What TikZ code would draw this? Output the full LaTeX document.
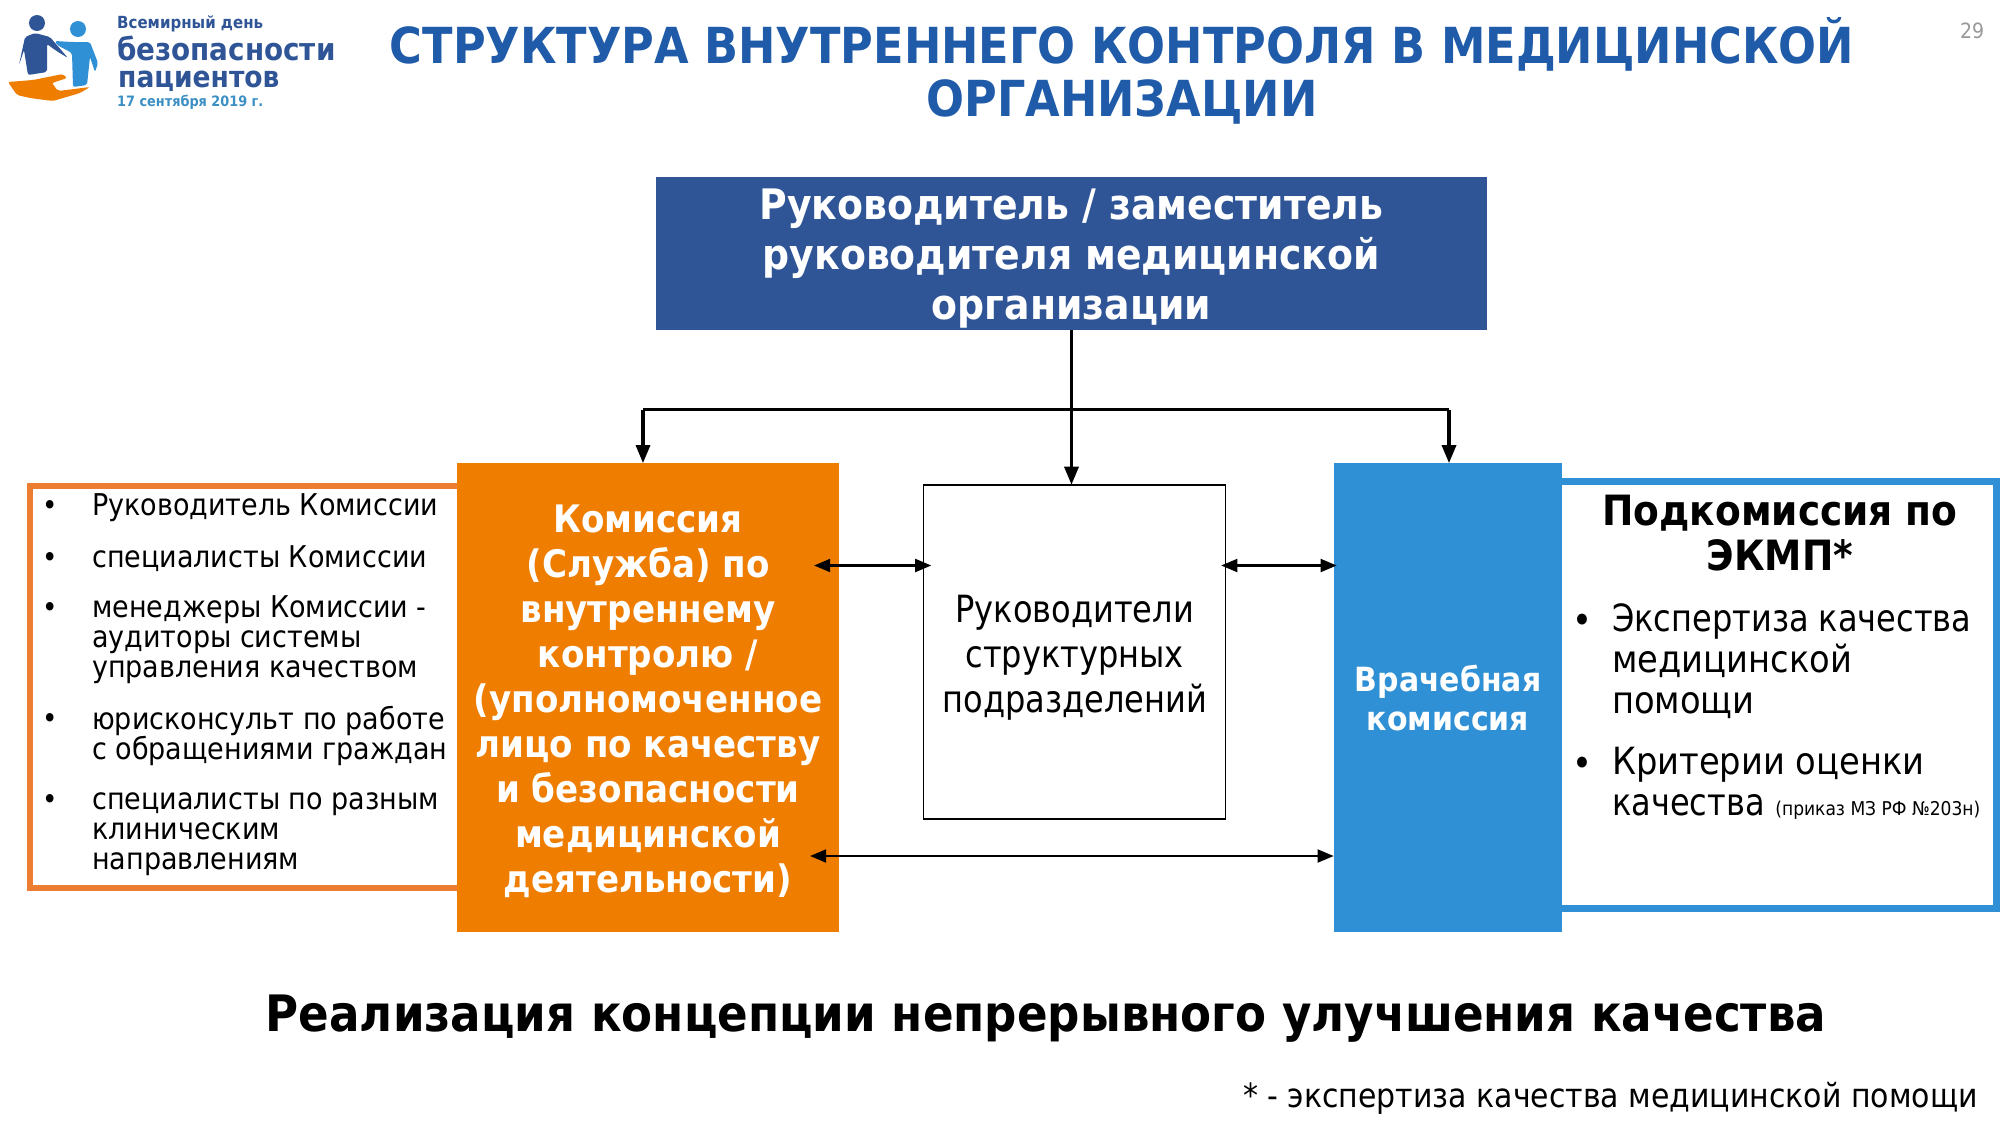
\documentclass[tikz,border=0pt]{standalone}
\usepackage{xcolor}
\usepackage{fontspec}
\setmainfont{DejaVu Sans Condensed}
\newfontfamily\narrowface[FakeStretch=0.95]{DejaVu Sans Condensed}
\usepackage{tikz}
\usetikzlibrary{arrows,calc,positioning}
\definecolor{titleblue}{HTML}{1F5BA8}
\definecolor{headblue}{HTML}{2F5597}
\definecolor{komorange}{HTML}{EE7D00}
\definecolor{frameorange}{HTML}{ED7D31}
\definecolor{vkblue}{HTML}{2F90D5}
\definecolor{logosky}{HTML}{3B8FC4}
\newcommand{\fsz}[2]{\fontsize{#1}{#2}\selectfont}
\newcommand{\dropby}[1]{\rule{0pt}{#1pt}}
\newcommand{\joinbox}[3][]{\draw[#1] (#2)--(#3) ;}
\newcommand{\itemat}[3]{\node[bullet] (#1b) at (50,#2-7) {•} ; \node[listtext] (#1) at (92,#2-22) {\dropby{22}#3} ;}
\tikzset{
  plainbox/.style={inner sep=0pt,align=center,text=white,font=\bfseries},
  bullet/.style={inner sep=0pt,anchor=center,font=\fsz{29}{31}},
  listtext/.style={inner sep=0pt,anchor=north west,align=left,font=\fsz{30}{30.3}},
  logotext/.style={inner sep=0pt,anchor=base west,font=\bfseries},
  link/.style={line width=3.2pt},
  sidelink/.style={line width=2.8pt},
}
\begin{document}
\begin{tikzpicture}[>=triangle 45,x=1pt,y=-1pt]
    \useasboundingbox (0,0) rectangle (2000,1125);
    % logo
    \fill[headblue] (37,23) circle (8);
    \fill[vkblue] (78,29) circle (8);
    \fill[headblue,rounded corners=2pt] (25,37)--(35,33)--(50,37)--(68,58)--(55,50)--(47,44)--(47,72)--(28,75)--(24,50)--(19,65)--cycle;
    \fill[vkblue,rounded corners=2pt] (55,41)--(72,42)--(90,42)--(98,63)--(95,72)--(90,57)--(87,85)--(73,87)--(72,53)--(57,45)--cycle;
    \fill[komorange,rounded corners=2pt] (8,82)--(33,80)--(63,74)--(67,78)--(52,83)--(58,91)--(90,87)--(80,93)--(53,101)--(30,98)--(17,95)--cycle;
    \node[logotext,text=headblue] (logo1) at (117,28) {\fsz{16.7}{17}Всемирный день};
    \node[logotext,text=headblue] (logo2) at (117,60) {\fsz{30.9}{31}безопасности};
    \node[logotext,text=headblue] (logo3) at (118,87) {\fsz{29.5}{30}пациентов};
    \node[logotext,text=logosky] (logo4) at (117,106) {\fsz{14.3}{15}17 сентября 2019 г.};
    % title
    \node[inner sep=0pt,align=center,text=titleblue,font=\bfseries\fsz{49.65}{53}] (title) at (1122,71) {СТРУКТУРА ВНУТРЕННЕГО КОНТРОЛЯ В МЕДИЦИНСКОЙ\\ОРГАНИЗАЦИИ};
    \node[inner sep=0pt,text=gray!80,font=\fsz{21}{21}] (pageno) at (1972,31) {29};
    % boxes
    \node[plainbox,fill=headblue,minimum width=831pt,minimum height=153pt,font=\bfseries\fsz{42}{50}] (head) at (1071.5,253.5) {\dropby{40.5}Руководитель / заместитель\\руководителя медицинской\\организации};
    \node[draw=frameorange,line width=6pt,minimum width=450pt,minimum height=402pt,inner sep=0pt] (teamframe) at (255,686.5) {};
    \node[draw=vkblue,line width=7pt,minimum width=500pt,minimum height=427pt,inner sep=0pt] (ekmpframe) at (1746,695) {};
    \node[plainbox,fill=komorange,minimum width=382pt,minimum height=469pt,font=\bfseries\fsz{37.9}{45}] (komissia) at (648,697.5) {\dropby{35}Комиссия\\(Служба) по\\внутреннему\\контролю /\\(уполномоченное\\лицо по качеству\\и безопасности\\медицинской\\деятельности)};
    \node[draw,line width=1.2pt,minimum width=302pt,minimum height=334pt,inner sep=0pt,align=center,font=\narrowface\fsz{37.5}{45}] (rukov) at (1074.75,652) {\dropby{38.5}Руководители\\структурных\\подразделений};
    \node[plainbox,fill=vkblue,minimum width=228.5pt,minimum height=469pt,font=\bfseries\fsz{33.3}{39}] (vk) at (1448,697.5) {\dropby{27}Врачебная\\комиссия};
    % list on the left
    \itemat{i1}{515}{Руководитель Комиссии}
    \itemat{i2}{567}{специалисты Комиссии}
    \itemat{i3}{617}{менеджеры Комиссии -\\аудиторы системы\\управления качеством}
    \itemat{i4}{728}{юрисконсульт по работе\\с обращениями граждан}
    \itemat{i5}{809}{специалисты по разным\\клиническим\\направлениям}
    % right block
    \node[inner sep=0pt,align=center,font=\bfseries\fsz{41.7}{45}] (ekmp) at (1780,533.5) {Подкомиссия по\\ЭКМП*};
    \node[inner sep=0pt,font=\fsz{37.5}{41}] (e1b) at (1582,623.5) {•};
    \node[inner sep=0pt,anchor=west,align=left,font=\fsz{37.5}{41}] (e1) at (1612,661) {{\narrowface Экспертиза качества}\\медицинской\\помощи};
    \node[inner sep=0pt,font=\fsz{37.5}{41}] (e2b) at (1582,766.5) {•};
    \node[inner sep=0pt,anchor=west,align=left,font=\fsz{37.5}{41}] (e2) at (1612,783) {Критерии оценки\\{\narrowface качества} {\fsz{19}{19}(приказ МЗ РФ №203н)}};
    % bottom texts
    \node[inner sep=0pt,font=\bfseries\fsz{50.2}{50}] (concept) at (1046,1019) {Реализация концепции непрерывного улучшения качества};
    \node[inner sep=0pt,anchor=east,font=\fsz{33.3}{33.3}] (note) at (1978,1098) {* - экспертиза качества медицинской помощи};
    % connectors
    \coordinate (busL) at (643,409.5);
    \coordinate (busR) at (1449,409.5);
    \coordinate (upper) at (0,565.5);
    \coordinate (lower) at (0,856);
    \joinbox[link,->]{head.south}{head.south |- rukov.north}
    \joinbox[link]{busL}{busR}
    \joinbox[link,->]{busL}{busL |- komissia.north}
    \joinbox[link,->]{busR}{busR |- vk.north}
    \joinbox[sidelink,<->,shorten <=-25pt,shorten >=-8pt]{komissia.east |- upper}{rukov.west |- upper}
    \joinbox[sidelink,<->,shorten <=-5pt,shorten >=-3pt]{rukov.east |- upper}{vk.west |- upper}
    \joinbox[sidelink,<->,shorten <=-29pt]{komissia.east |- lower}{vk.west |- lower}
\end{tikzpicture}
\end{document}
